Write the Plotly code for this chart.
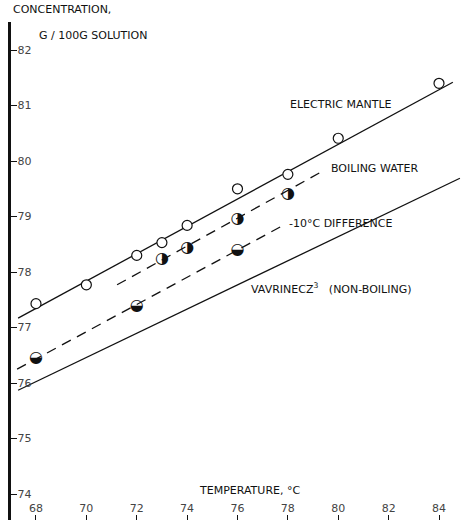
import plotly.graph_objects as go

# ---- data ----
temp_mantle = [68, 70, 72, 73, 74, 76, 78, 80, 84]
conc_mantle = [77.43, 77.77, 78.30, 78.53, 78.84, 79.50, 79.76, 80.41, 81.40]

temp_boiling = [73, 74, 76, 78]
conc_boiling = [78.23, 78.44, 78.96, 79.41]

temp_diff10 = [68, 72, 76]
conc_diff10 = [76.45, 77.38, 78.40]

# fitted lines (end points)
mantle_line_x = [67.29, 84.55]
mantle_line_y = [77.17, 81.42]
boiling_line_x = [71.22, 79.47]
boiling_line_y = [77.77, 79.84]
diff10_line_x = [67.25, 77.85]
diff10_line_y = [76.25, 78.85]
vav_line_x = [67.29, 84.83]
vav_line_y = [75.87, 79.69]

x_ticks = [68, 70, 72, 74, 76, 78, 80, 82, 84]
y_ticks = [74, 75, 76, 77, 78, 79, 80, 81, 82]

FONT = "DejaVu Sans"
BLACK = "#111111"

fig = go.Figure()

line_style = dict(color=BLACK, width=1.3)
dash_style = dict(color=BLACK, width=1.3, dash="10px,7px")

fig.add_trace(go.Scatter(x=mantle_line_x, y=mantle_line_y, mode="lines", line=line_style, showlegend=False))
fig.add_trace(go.Scatter(x=boiling_line_x, y=boiling_line_y, mode="lines", line=dash_style, showlegend=False))
fig.add_trace(go.Scatter(x=diff10_line_x, y=diff10_line_y, mode="lines", line=dash_style, showlegend=False))
fig.add_trace(go.Scatter(x=vav_line_x, y=vav_line_y, mode="lines", line=line_style, showlegend=False))

# open circles - electric mantle
fig.add_trace(go.Scatter(
    x=temp_mantle, y=conc_mantle, mode="markers",
    marker=dict(symbol="circle", size=10, color="white", line=dict(color=BLACK, width=1.2)),
    showlegend=False))

# half filled circles drawn with glyphs
fig.add_trace(go.Scatter(
    x=temp_boiling, y=conc_boiling, mode="text", text=["\u25D1"] * len(temp_boiling),
    textposition="middle center", textfont=dict(family=FONT, size=16, color=BLACK),
    showlegend=False))
fig.add_trace(go.Scatter(
    x=temp_diff10, y=conc_diff10, mode="text", text=["\u25D2"] * len(temp_diff10),
    textposition="middle center", textfont=dict(family=FONT, size=16, color=BLACK),
    showlegend=False))

labels = [
    (78.0, 81.01, "ELECTRIC MANTLE"),
    (79.63, 79.86, "BOILING WATER"),
    (77.96, 78.88, "-10°C DIFFERENCE"),
    (76.46, 77.71, "VAVRINECZ<sup>3</sup>&nbsp;&nbsp;&nbsp;(NON-BOILING)"),
    (74.39, 74.07, "TEMPERATURE, °C"),
]
for x, y, t in labels:
    fig.add_annotation(x=x, y=y, text=t, showarrow=False, xanchor="left", yanchor="middle",
                       font=dict(family=FONT, size=11, color=BLACK))

# axis title lines above the plot area (paper coordinates)
fig.add_annotation(xref="paper", yref="paper", x=0.0, y=1.0, yshift=4, text="CONCENTRATION,",
                   showarrow=False, xanchor="left", yanchor="bottom",
                   font=dict(family=FONT, size=11, color=BLACK))
fig.add_annotation(xref="paper", yref="paper", x=0.057, y=1.0, yshift=-13, text="G / 100G SOLUTION",
                   showarrow=False, xanchor="left", yanchor="middle",
                   font=dict(family=FONT, size=11, color=BLACK))

fig.update_layout(
    width=462, height=520,
    margin=dict(l=11, r=0, t=22, b=0),
    paper_bgcolor="white", plot_bgcolor="white",
    font=dict(family=FONT, size=11, color=BLACK),
    xaxis=dict(range=[67.008, 84.913], tickvals=x_ticks, ticks="inside", ticklen=5,
               tickwidth=1.2, tickcolor=BLACK, ticklabelposition="inside",
               showline=False, showgrid=False, zeroline=False),
    yaxis=dict(range=[73.532, 82.505], tickvals=y_ticks, ticks="inside", ticklen=6,
               tickwidth=1.2, tickcolor=BLACK, ticklabelposition="inside",
               showline=True, linewidth=2.5, linecolor=BLACK,
               showgrid=False, zeroline=False),
)

fig.write_html("out.html", config={"displayModeBar": False},
               post_script="document.body.style.margin='0';document.body.style.padding='0';")
